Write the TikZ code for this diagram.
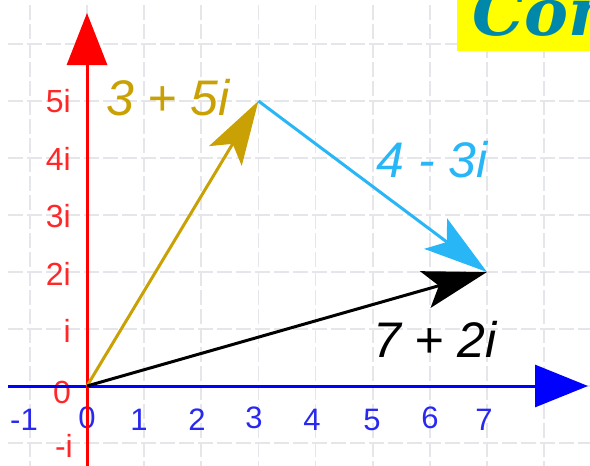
\documentclass[tikz,border=0pt]{standalone}
\usepackage{fontspec}
\setmainfont{Liberation Sans}
\newfontfamily\titlefont{DejaVu Serif}
\usetikzlibrary{arrows.meta}
\definecolor{gridgray}{RGB}{228,230,234}
\definecolor{axred}{RGB}{255,0,0}
\definecolor{labred}{RGB}{255,40,40}
\definecolor{axblue}{RGB}{0,0,255}
\definecolor{labblue}{RGB}{40,40,240}
\definecolor{goldvec}{RGB}{201,161,4}
\definecolor{skyvec}{RGB}{41,182,246}
\definecolor{titleteal}{RGB}{0,136,170}
\definecolor{titleyellow}{RGB}{255,255,0}
\begin{document}
\begin{tikzpicture}[x=1pt,y=-1pt,
  gridline/.style={draw=gridgray,line width=1.6pt,dash pattern=on 15pt off 4pt},
  axisline/.style={line width=3pt},
  vec/.style={line width=3pt,-{Stealth[length=64pt,width=38pt,inset=14pt]}},
  ylab/.style={text=labred,font=\fontsize{32}{32}\selectfont,anchor=east,inner sep=0pt},
  xlab/.style={text=labblue,font=\fontsize{31}{31}\selectfont,inner sep=0pt},
  veclab/.style={font=\itshape\fontsize{50}{50}\selectfont,inner sep=0pt}]
\useasboundingbox (0,0) rectangle (590,466);
% grid
\foreach \k in {-1,...,8}
  \draw[gridline] ({87+57.14*\k},5) -- ({87+57.14*\k},466);
\foreach \k in {-1,...,6}
  \draw[gridline] (8,{386-57*\k}) -- (590,{386-57*\k});
% title
\fill[titleyellow] (457,0) rectangle (590,51);
\node[anchor=base west,text=titleteal,font=\titlefont\bfseries\itshape\fontsize{66}{66}\selectfont,inner sep=0pt] (title) at (472,35) {Com};
% points
\coordinate (O) at (87,386);
\coordinate (A) at ({87+3*57.14},{386-5*57});
\coordinate (B) at ({87+7*57.14},{386-2*57});
\coordinate (xs) at (8,386);
\coordinate (xe) at (588,386);
\coordinate (ys) at (87,466);
\coordinate (ye) at (87,13);
% axis labels
\node[ylab] (l5) at (71,101) {5i};
\node[ylab] (l4) at (71,159) {4i};
\node[ylab] (l3) at (71,216) {3i};
\node[ylab] (l2) at (71,274) {2i};
\node[ylab] (l1) at (71,331) {i};
\node[ylab] (l0) at (71,392) {0};
\node[ylab] (lm) at (73,446) {-i};
\node[xlab] (xm1) at (24,420) {-1};
\node[xlab] (x0) at (87,418) {0};
\node[xlab] (x1) at (139,420) {1};
\node[xlab] (x2) at (197,420) {2};
\node[xlab] (x3) at (254,418) {3};
\node[xlab] (x4) at (312,420) {4};
\node[xlab] (x5) at (372,420) {5};
\node[xlab] (x6) at (430,418) {6};
\node[xlab] (x7) at (484,420) {7};
% axes
\draw[axisline,axblue,-{Triangle[length=53pt,width=42pt]}] (xs) -- (xe);
\draw[axisline,axred,-{Triangle[length=52pt,width=40pt]}] (ys) -- (ye);
% vectors
\draw[vec,goldvec] (O) -- (A);
\draw[vec,black] (O) -- (B);
\draw[vec,skyvec] (A) -- (B);
% vector labels
\node[veclab,text=goldvec] (la) at (168,98) {3 + 5i};
\node[veclab,text=skyvec] (lb) at (432,160) {4 - 3i};
\node[veclab,text=black] (lc) at (435,339) {7 + 2i};
\end{tikzpicture}
\end{document}
